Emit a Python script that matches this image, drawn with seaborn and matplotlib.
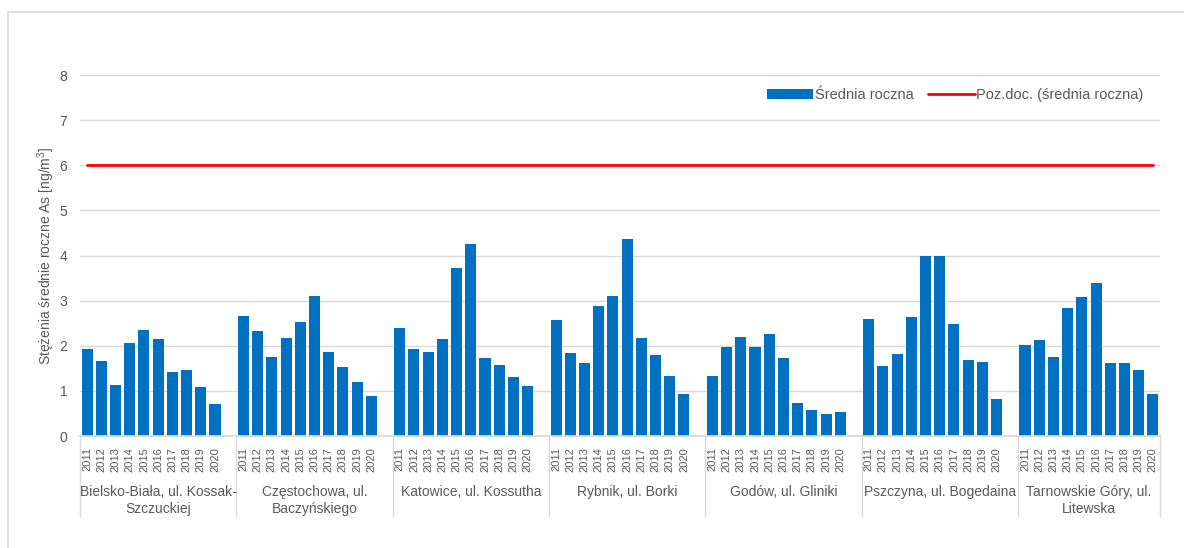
import numpy as np
import pandas as pd
import seaborn as sns
import matplotlib.pyplot as plt
from matplotlib.lines import Line2D
import matplotlib.transforms as mtransforms

# dane: stezenia srednie roczne As [ng/m3]
stacje = ["Bielsko-Biała, ul. Kossak-\nSzczuckiej", "Częstochowa, ul.\nBaczyńskiego",
          "Katowice, ul. Kossutha", "Rybnik, ul. Borki", "Godów, ul. Gliniki",
          "Pszczyna, ul. Bogedaina", "Tarnowskie Góry, ul.\nLitewska"]
lata = ["2011", "2012", "2013", "2014", "2015", "2016", "2017", "2018", "2019", "2020"]
bielsko = [1.93, 1.67, 1.13, 2.07, 2.36, 2.16, 1.41, 1.47, 1.09, 0.72]
czestochowa = [2.67, 2.32, 1.76, 2.18, 2.53, 3.10, 1.87, 1.54, 1.19, 0.88]
katowice = [2.39, 1.93, 1.87, 2.16, 3.73, 4.26, 1.73, 1.58, 1.31, 1.10]
rybnik = [2.57, 1.84, 1.61, 2.87, 3.10, 4.36, 2.18, 1.79, 1.33, 0.94]
godow = [1.33, 1.98, 2.19, 1.98, 2.27, 1.73, 0.73, 0.57, 0.48, 0.54]
pszczyna = [2.59, 1.56, 1.82, 2.63, 4.00, 4.00, 2.48, 1.68, 1.64, 0.81]
tarnowskie = [2.01, 2.13, 1.75, 2.84, 3.08, 3.38, 1.61, 1.61, 1.46, 0.93]
poz_doc = 6

serie = [bielsko, czestochowa, katowice, rybnik, godow, pszczyna, tarnowskie]
rows = []
for i, s in enumerate(serie):
    for j, v in enumerate(s):
        rows.append({"pos": i * 11 + j, "rok": lata[j], "wartosc": v})
df = pd.DataFrame(rows)
df["limit"] = poz_doc

sns.set_theme(style="white")
plt.rcParams['font.family'] = ['Liberation Sans', 'DejaVu Sans']
plt.rcParams['mathtext.default'] = 'regular'
szary = "#595959"

fig = plt.figure(figsize=(11.84, 5.48), dpi=100)
ax = fig.add_axes([80 / 1184, 1 - 436 / 548, 1080 / 1184, 361 / 548])

sns.barplot(data=df, x="pos", y="wartosc", native_scale=True, color="#0070C0",
            width=0.78, edgecolor="none", saturation=1, label="Średnia roczna", ax=ax)
sns.lineplot(data=df, x="pos", y="limit", color="#FF0000", linewidth=2,
             label="Poz.doc. (średnia roczna)", ax=ax)

ax.set_xlim(-0.5, 75.5)
ax.set_ylim(0, 8)
ax.set_yticks(range(0, 9))
ax.yaxis.grid(True, color="#D9D9D9", linewidth=1)
ax.set_axisbelow(True)
for sp in ["top", "right", "left"]:
    ax.spines[sp].set_visible(False)
ax.spines["bottom"].set_color("#D9D9D9")
ax.set_xticks(df["pos"])
ax.set_xticklabels(df["rok"], rotation=90, fontsize=8, color=szary)
ax.tick_params(axis="x", length=0, pad=8)
ax.tick_params(axis="y", length=0, pad=9, labelsize=10, labelcolor=szary)
ax.set_xlabel("")
ax.set_ylabel("Stężenia średnie roczne As [ng/m$^3$]", fontsize=10, color=szary, labelpad=2)

# separatory i nazwy stacji pod osia
trans = mtransforms.blended_transform_factory(ax.transData, ax.transAxes)
granice = [-0.5] + [i * 11 + 10.5 for i in range(6)] + [75.5]
for g in granice:
    ax.plot([g, g], [0, -0.222], transform=trans, color="#D9D9D9", lw=1, clip_on=False)
for i, nazwa in enumerate(stacje):
    srodek = (granice[i] + granice[i + 1]) / 2
    ax.text(srodek, -0.136, nazwa, transform=trans, ha="center", va="top",
            fontsize=10, color=szary, linespacing=1.25)

uchwyty, etykiety = ax.get_legend_handles_labels()
kolej = [etykiety.index("Średnia roczna"), etykiety.index("Poz.doc. (średnia roczna)")]
leg = ax.legend([uchwyty[k] for k in kolej], [etykiety[k] for k in kolej],
                loc="upper right", bbox_to_anchor=(0.997, 1.0), ncol=2, frameon=False,
                fontsize=10.5, handlelength=3.2, handletextpad=0.1, columnspacing=1.0)
for t in leg.get_texts():
    t.set_color(szary)

# ramka wykresu
fig.add_artist(Line2D([7.5 / 1184, 7.5 / 1184], [0, 1 - 12 / 548], color="#D9D9D9", lw=1.2))
fig.add_artist(Line2D([7.5 / 1184, 1], [1 - 12 / 548, 1 - 12 / 548], color="#D9D9D9", lw=1.2))

plt.savefig("out.png", dpi=100)
